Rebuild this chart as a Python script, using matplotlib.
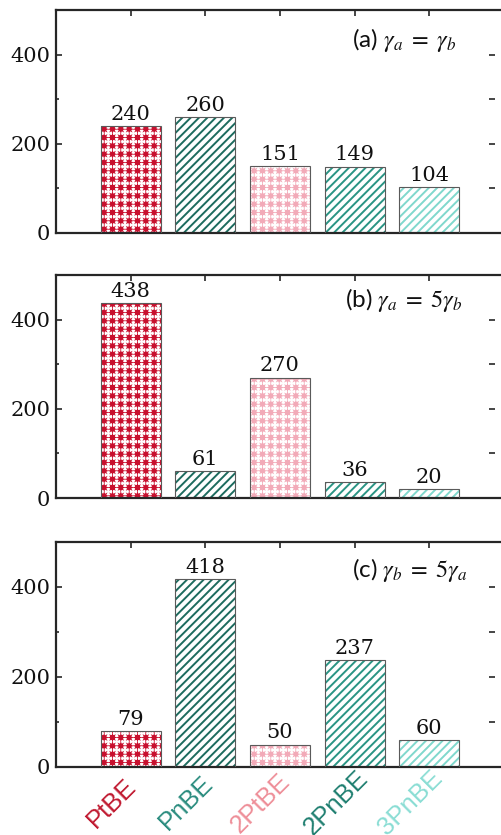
import numpy as np
import matplotlib
matplotlib.use("Agg")
import matplotlib.pyplot as plt
import matplotlib.hatch as mhatch
from matplotlib.path import Path
from matplotlib.transforms import ScaledTranslation, blended_transform_factory
from matplotlib.ticker import FixedLocator

# ---- data -------------------------------------------------------------
categories = ["PtBE", "PnBE", "2PtBE", "2PnBE", "3PnBE"]
counts_equal = [240, 260, 151, 149, 104]      # (a) gamma_a = gamma_b
counts_a5 = [438, 61, 270, 36, 20]            # (b) gamma_a = 5 gamma_b
counts_b5 = [79, 418, 50, 237, 60]            # (c) gamma_b = 5 gamma_a
panel_titles = [r"(a) $\gamma_a\;=\;\gamma_b$",
                r"(b) $\gamma_a\;=\;5\gamma_b$",
                r"(c) $\gamma_b\;=\;5\gamma_a$"]
y_ticks = [0, 200, 400]
y_minor = [100, 300]
right_ticks = [100, 200, 300, 400]

# ---- styles -----------------------------------------------------------
bar_colors = ["#c8102e", "#1d6b5e", "#f2aab8", "#2a9484", "#80d8cd"]
bar_hatches = ["..", "////", "..", "////", "////"]
label_colors = ["#c0182f", "#2a8c7e", "#ee8e98", "#1f7f70", "#8addd4"]


class GridDots(mhatch.HatchPatternBase):
    """Square grid of small filled plus-like dots (replaces the '.' hatch)."""

    def __init__(self, hatch, density):
        self.n = int(hatch.count('.') * density)
        ang = np.linspace(0, 2 * np.pi, 17)[:-1]
        rad = np.where(np.arange(16) % 2 == 0, 0.19, 0.09)
        pts = np.column_stack([rad * np.cos(ang), rad * np.sin(ang)])
        self.shape_vertices = np.vstack([pts, pts[:1]])
        self.shape_codes = np.full(len(self.shape_vertices), Path.LINETO, dtype=Path.code_type)
        self.shape_codes[0] = Path.MOVETO
        self.shape_codes[-1] = Path.CLOSEPOLY
        self.num_vertices = self.n * self.n * len(self.shape_vertices)

    def set_vertices_and_codes(self, vertices, codes):
        k = len(self.shape_vertices)
        idx = 0
        for i in range(self.n):
            for j in range(self.n):
                c = np.array([(i + 0.5) / self.n, (j + 0.5) / self.n])
                vertices[idx:idx + k] = self.shape_vertices / self.n + c
                codes[idx:idx + k] = self.shape_codes
                idx += k


mhatch._hatch_types = [GridDots if t is mhatch.SmallFilledCircles else t
                       for t in mhatch._hatch_types]

plt.rcParams["hatch.linewidth"] = 1.4
plt.rcParams["mathtext.fontset"] = "stix"

W, H = 502, 835
fig = plt.figure(figsize=(W / 100, H / 100), dpi=100)

# axes boxes in pixels: (left, top, right, bottom)
boxes = [(56, 10, 504, 233), (56, 275, 504, 498), (56, 542, 504, 767)]
title_pos = [(0.661, 0.865), (0.645, 0.888), (0.661, 0.876)]
datasets = [counts_equal, counts_a5, counts_b5]

x = np.arange(1, len(categories) + 1)
spine_col = "#262626"

for k, (box, vals) in enumerate(zip(boxes, datasets)):
    l, t, r, b = box
    ax = fig.add_axes([l / W, 1 - b / H, (r - l) / W, (b - t) / H])

    bars = ax.bar(x, vals, width=0.8, color="white", linewidth=0, zorder=2)
    for p, c, h in zip(bars, bar_colors, bar_hatches):
        p.set_edgecolor(c)
        p.set_hatch(h)
    ax.bar(x, vals, width=0.8, fill=False, edgecolor="#5a5a5a", linewidth=0.8, zorder=3)

    for xi, v in zip(x, vals):
        ax.annotate(str(v), (xi, v), xytext=(0, 1.5), textcoords="offset points",
                    ha="center", va="bottom", fontsize=15, family="DejaVu Serif",
                    color="#111111")

    ax.set_xlim(0, 6)
    ax.set_ylim(0, 500)
    ax.set_xticks(x)
    ax.set_xticklabels([])
    ax.yaxis.set_major_locator(FixedLocator(y_ticks))
    ax.yaxis.set_minor_locator(FixedLocator(y_minor))
    ax.set_yticklabels([str(v) for v in y_ticks], family="DejaVu Serif", fontsize=15,
                       color="#111111")
    ax.tick_params(axis="both", which="both", direction="in", color=spine_col,
                   width=1.2, top=True, right=False)
    ax.tick_params(axis="both", which="major", length=4, pad=4)
    ax.tick_params(axis="y", which="minor", length=2.5)

    for s in ax.spines.values():
        s.set_linewidth(1.6)
        s.set_color(spine_col)

    # short tick marks along the right side
    sec = ax.secondary_yaxis((489 - l) / (r - l))
    for s in sec.spines.values():
        s.set_visible(False)
    sec.set_yticks(right_ticks)
    sec.tick_params(axis="y", which="major", direction="out", length=4.3, width=1.2,
                    color=spine_col, labelright=False, labelleft=False)
    sec.tick_params(axis="y", which="minor", length=0)

    tx, ty = title_pos[k]
    ax.text(tx, ty, panel_titles[k], transform=ax.transAxes, ha="left", va="center",
            fontsize=17.5, family="Lato", color="#111111")

    if k == len(boxes) - 1:
        base = blended_transform_factory(ax.transData, ax.transAxes)
        shift = ScaledTranslation(-19 / 100, -36 / 100, fig.dpi_scale_trans)
        for xi, name, col in zip(x, categories, label_colors):
            ax.text(xi, 0, name, transform=base + shift, rotation=45,
                    rotation_mode="anchor", ha="center", va="center",
                    fontsize=18.5, family="Liberation Sans", color=col,
                    clip_on=False)

fig.savefig("out.png", dpi=100)
